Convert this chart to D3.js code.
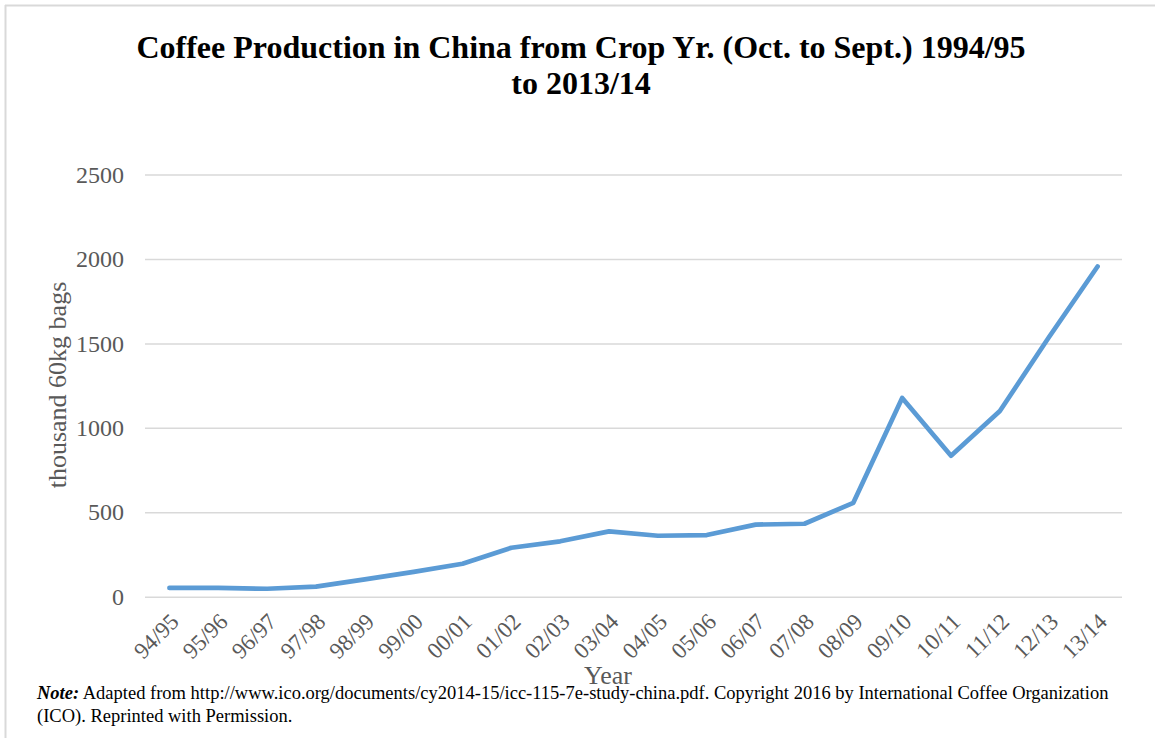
<!DOCTYPE html>
<html>
<head>
<meta charset="utf-8">
<script src="https://cdn.jsdelivr.net/npm/d3@7"></script>
<style>
  body { margin: 0; background: #fff; }
  svg { display: block; font-family: "Liberation Serif", "Times New Roman", serif; }
</style>
</head>
<body>
<svg id="chart" width="1155" height="738"></svg>
<script>
const years = ["94/95", "95/96", "96/97", "97/98", "98/99", "99/00", "00/01", "01/02", "02/03", "03/04",
  "04/05", "05/06", "06/07", "07/08", "08/09", "09/10", "10/11", "11/12", "12/13", "13/14"];
const production = [52, 52, 47, 60, 103, 147, 195, 290, 328, 387,
  361, 365, 427, 432, 556, 1177, 835, 1100, 1535, 1955];
const yTicks = [0, 500, 1000, 1500, 2000, 2500];

const svg = d3.select("#chart");
const width = 1155;
const height = 738;

const plotLeft = 145, plotRight = 1122, plotTop = 174.5, plotBottom = 596.7;

// frame around the chart area
svg.append("line").attr("x1", 5).attr("x2", width).attr("y1", 5.5).attr("y2", 5.5)
  .attr("stroke", "#d9d9d9").attr("stroke-width", 2);
svg.append("line").attr("x1", 5.5).attr("x2", 5.5).attr("y1", 5).attr("y2", height)
  .attr("stroke", "#d9d9d9").attr("stroke-width", 2);

const x = d3.scalePoint().domain(years).range([plotLeft, plotRight]).padding(0.5);
const y = d3.scaleLinear().domain([0, 2500]).range([plotBottom, plotTop]);

// title
const title = svg.append("text")
  .attr("text-anchor", "middle")
  .attr("font-weight", "bold")
  .attr("font-size", 32)
  .attr("fill", "#000");
title.append("tspan").attr("x", 581).attr("y", 58).text("Coffee Production in China from Crop Yr. (Oct. to Sept.) 1994/95");
title.append("tspan").attr("x", 581).attr("y", 94).text("to 2013/14");

// gridlines + y labels
const yAxis = svg.append("g")
  .attr("transform", `translate(${plotLeft},0)`)
  .call(d3.axisLeft(y).tickValues(yTicks).tickFormat(d3.format("d"))
    .tickSize(-(plotRight - plotLeft)).tickPadding(21));
yAxis.select(".domain").remove();
yAxis.selectAll(".tick line").attr("stroke", "#d9d9d9").attr("stroke-width", 1.5);
yAxis.selectAll(".tick text")
  .attr("font-family", "Liberation Serif, serif")
  .attr("font-size", 24)
  .attr("fill", "#595959");

// x labels
const xAxis = svg.append("g")
  .attr("transform", `translate(0,${plotBottom})`)
  .call(d3.axisBottom(x).tickSize(0).tickPadding(0));
xAxis.select(".domain").remove();
xAxis.selectAll(".tick text")
  .attr("font-family", "Liberation Serif, serif")
  .attr("font-size", 23)
  .attr("fill", "#595959")
  .attr("text-anchor", "end")
  .attr("dy", 0)
  .attr("transform", "translate(-1,15) rotate(-45)")
  .attr("y", 0).attr("x", 0)
  .attr("dominant-baseline", "hanging");

// line
const line = d3.line()
  .x((d, i) => x(years[i]))
  .y((d) => y(d));

svg.append("path")
  .datum(production)
  .attr("fill", "none")
  .attr("stroke", "#5b9bd5")
  .attr("stroke-width", 4.7)
  .attr("stroke-linejoin", "round")
  .attr("stroke-linecap", "round")
  .attr("d", line);

// axis titles
svg.append("text")
  .attr("transform", "translate(66,385) rotate(-90)")
  .attr("text-anchor", "middle")
  .attr("font-size", 26)
  .attr("fill", "#595959")
  .text("thousand 60kg bags");

svg.append("text")
  .attr("x", 608).attr("y", 684)
  .attr("text-anchor", "middle")
  .attr("font-size", 26)
  .attr("fill", "#595959")
  .text("Year");

// note
const note = svg.append("text").attr("font-size", 18.5).attr("fill", "#000");
const l1 = note.append("tspan").attr("x", 37).attr("y", 699);
l1.append("tspan").attr("font-style", "italic").attr("font-weight", "bold").text("Note:");
l1.append("tspan").text(" Adapted from http://www.ico.org/documents/cy2014-15/icc-115-7e-study-china.pdf. Copyright 2016 by International Coffee Organization");
note.append("tspan").attr("x", 37).attr("y", 722).text("(ICO). Reprinted with Permission.");
</script>
</body>
</html>
